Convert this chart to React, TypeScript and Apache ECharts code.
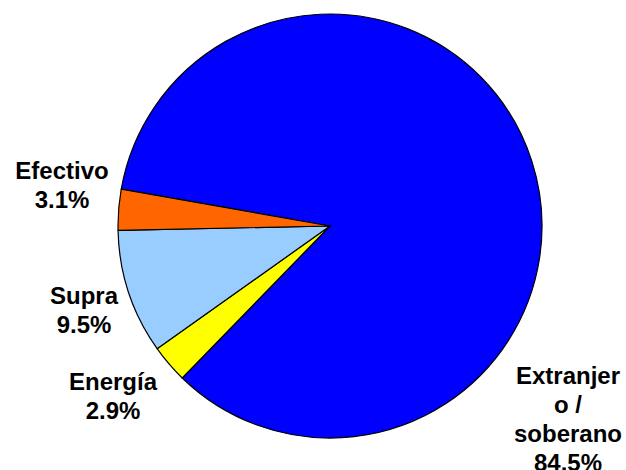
import React, { useEffect, useRef } from "react";
import * as echarts from "echarts";

const categories = ["Extranjer\no /\nsoberano", "Energía", "Supra", "Efectivo"];
const values = [84.5, 2.9, 9.5, 3.1];
const colors = ["#0000FF", "#FFFF00", "#99CCFF", "#FF6600"];
// label anchor points (centre of each label block), px
const labelPos: [number, number][] = [
  [568, 419],
  [113, 396],
  [84, 310],
  [62, 185],
];

export default function App() {
  const ref = useRef<HTMLDivElement>(null);
  useEffect(() => {
    if (!ref.current) return;
    const chart = echarts.init(ref.current, undefined, { renderer: "svg" });
    chart.setOption({
      animation: false,
      backgroundColor: "#ffffff",
      series: [
        {
          type: "pie",
          center: [330, 226],
          radius: 212,
          startAngle: 170,
          clockwise: true,
          avoidLabelOverlap: false,
          data: categories.map((name, i) => ({
            name,
            value: values[i],
            itemStyle: { color: colors[i] },
          })),
          itemStyle: { borderColor: "#000000", borderWidth: 1.2 },
          label: {
            show: true,
            position: "outside",
            formatter: (p: any) => `${p.name}\n${p.value.toFixed(1)}%`,
            color: "#000000",
            fontFamily: "Liberation Sans, Arial, sans-serif",
            fontWeight: "bold",
            fontSize: 24,
            lineHeight: 29,
            align: "center",
          },
          labelLine: { show: false },
          labelLayout: (params: any) => {
            const p = labelPos[params.dataIndex];
            return { x: p[0], y: p[1], align: "center", verticalAlign: "middle" };
          },
          emphasis: { disabled: true },
        },
      ],
    });
    return () => chart.dispose();
  }, []);
  return (
    <div
      ref={ref}
      style={{ position: "absolute", left: 0, top: 0, width: 626, height: 470 }}
    />
  );
}
